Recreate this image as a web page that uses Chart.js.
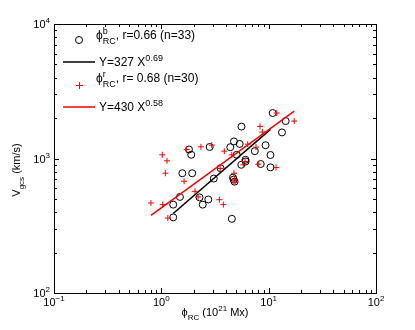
<!DOCTYPE html>
<html>
<head>
<meta charset="utf-8">
<script src="https://cdn.jsdelivr.net/npm/chart.js@4"></script>
<style>
  body { margin: 0; background: #fff; }
  canvas { display: block; }
</style>
</head>
<body>
<canvas id="c" width="415" height="330"></canvas>
<script>
// 資料：黑色圓圈 (phi_RC^b) 與紅色十字 (phi_RC^r)
const blackX = [10.9, 14.4, 5.58, 13.3, 4.75, 5.37, 4.39, 9.35, 7.43, 10.4, 2.82, 1.81, 1.90, 5.04, 6.08, 8.43, 10.4,
    1.57, 1.94, 3.56, 3.08, 4.72, 4.81, 1.49, 2.27, 2.74, 2.43, 1.29, 1.29, 4.54, 4.65, 6.1, 5.56];
const blackY = [2178, 1898, 1727, 1563, 1339, 1283, 1214, 1255, 1134, 1062, 1218, 1167, 1066, 1066, 978, 910, 859,
    777, 777, 847, 709, 697, 673, 518, 514, 496, 454, 454, 365, 356, 721, 950, 898];

const redX = [11.9, 17.3, 8.30, 8.73, 6.38, 7.62, 3.86, 4.53, 2.34, 2.95, 1.72, 1.02, 1.13, 1.09, 1.63, 5.81, 8.00,
    11.7, 4.75, 4.80, 4.87, 3.47, 3.78, 2.06, 0.80, 1.03, 1.15, 6.02, 2.20, 3.53];
const redY = [2178, 1898, 1733, 1572, 1278, 1214, 1134, 1066, 1222, 1257, 1167, 1066, 961, 777, 677, 898, 907,
    857, 777, 701, 666, 494, 454, 570, 467, 454, 361, 950, 518, 842];

// 擬合線 Y = a X^b
const blackFit = [327, 0.69];
const blackFitRange = [1.29, 10.4];
const redFit = [430, 0.58];
const redFitRange = [0.8, 17.3];

// 刻度
const xTickExps = [-1, 0, 1, 2];
const yTickExps = [2, 3, 4];

const FONT = '"Liberation Sans", Arial, Helvetica, sans-serif';

function toPoints(xs, ys) {
    return xs.map((x, i) => ({ x: x, y: ys[i] }));
}

function fitPoints(fit, range) {
    return range.map(x => ({ x: x, y: fit[0] * Math.pow(x, fit[1]) }));
}

// 上下標文字
function segFont(s, size) {
    return (s.sup || s.sub ? Math.round(size * 0.75) : size) + 'px ' + FONT;
}

function richWidth(ctx, segs, size) {
    let w = 0;
    segs.forEach(s => {
        ctx.font = segFont(s, size);
        if (!s.stay) w += ctx.measureText(s.t).width;
    });
    return w;
}

function drawRich(ctx, segs, x, y, size, align) {
    const w = richWidth(ctx, segs, size);
    let cx = align === 'center' ? x - w / 2 : align === 'right' ? x - w : x;
    ctx.textAlign = 'left';
    ctx.textBaseline = 'alphabetic';
    segs.forEach(s => {
        ctx.font = segFont(s, size);
        const dy = s.sup ? -size * 0.45 : s.sub ? size * 0.38 : 0;
        ctx.fillText(s.t, cx, y + dy);
        if (!s.stay) cx += ctx.measureText(s.t).width;
    });
}

const framePlugin = {
    id: 'frame',
    afterDraw(chart) {
        const ctx = chart.ctx;
        const a = chart.chartArea;
        const xs = chart.scales.x;
        const ys = chart.scales.y;
        ctx.save();
        ctx.strokeStyle = '#000';
        ctx.lineWidth = 1;
        ctx.strokeRect(Math.round(a.left) + 0.5, Math.round(a.top) + 0.5,
            Math.round(a.right - a.left), Math.round(a.bottom - a.top));

        // 刻度線（內向）
        ctx.beginPath();
        for (let e = -1; e < 2; e++) {
            for (let m = 1; m <= 10; m++) {
                const v = m * Math.pow(10, e);
                const px = Math.round(xs.getPixelForValue(v)) + 0.5;
                const len = (m === 1 || m === 10) ? 5 : 3;
                ctx.moveTo(px, a.bottom); ctx.lineTo(px, a.bottom - len);
                ctx.moveTo(px, a.top); ctx.lineTo(px, a.top + len);
            }
        }
        for (let e = 2; e < 4; e++) {
            for (let m = 1; m <= 10; m++) {
                const v = m * Math.pow(10, e);
                const py = Math.round(ys.getPixelForValue(v)) + 0.5;
                const len = (m === 1 || m === 10) ? 5 : 3;
                ctx.moveTo(a.left, py); ctx.lineTo(a.left + len, py);
                ctx.moveTo(a.right, py); ctx.lineTo(a.right - len, py);
            }
        }
        ctx.stroke();

        // 刻度標籤
        ctx.fillStyle = '#000';
        xTickExps.forEach(e => {
            const px = xs.getPixelForValue(Math.pow(10, e));
            drawRich(ctx, [{ t: '10' }, { t: String(e).replace('-', '\u2212'), sup: true }], px, 306, 11, 'center');
        });
        yTickExps.forEach(e => {
            const py = ys.getPixelForValue(Math.pow(10, e));
            drawRich(ctx, [{ t: '10' }, { t: String(e), sup: true }], a.left - 4, py + 4, 11, 'right');
        });

        // 軸標題
        drawRich(ctx, [{ t: '\u03d5' }, { t: 'RC', sub: true }, { t: ' (10' }, { t: '21', sup: true }, { t: ' Mx)' }],
            (a.left + a.right) / 2, 316, 11, 'center');
        ctx.save();
        ctx.translate(20, 170);
        ctx.rotate(-Math.PI / 2);
        drawRich(ctx, [{ t: 'V' }, { t: 'gcs', sub: true }, { t: ' (km/s)' }], 0, 0, 11, 'center');
        ctx.restore();

        // 圖例
        const lx0 = 63, lx1 = 95, tx = 99;
        ctx.strokeStyle = '#000';
        ctx.beginPath();
        ctx.arc(79, 40, 3.5, 0, Math.PI * 2);
        ctx.stroke();
        drawRich(ctx, [{ t: '\u03d5' }, { t: 'b', sup: true, stay: true }, { t: 'RC', sub: true },
            { t: ', r=0.66 (n=33)' }], 96, 39, 12, 'left');

        ctx.lineWidth = 1.5;
        ctx.beginPath();
        ctx.moveTo(lx0, 62); ctx.lineTo(lx1, 62);
        ctx.stroke();
        drawRich(ctx, [{ t: 'Y=327 X' }, { t: '0.69', sup: true }], tx, 66, 12, 'left');

        ctx.strokeStyle = '#ff0000';
        ctx.lineWidth = 1;
        ctx.beginPath();
        ctx.moveTo(76, 85.5); ctx.lineTo(83, 85.5);
        ctx.moveTo(79.5, 82); ctx.lineTo(79.5, 89);
        ctx.stroke();
        drawRich(ctx, [{ t: '\u03d5' }, { t: 'r', sup: true, stay: true }, { t: 'RC', sub: true },
            { t: ', r= 0.68 (n=30)' }], 96, 82, 12, 'left');

        ctx.lineWidth = 1.5;
        ctx.beginPath();
        ctx.moveTo(lx0, 107); ctx.lineTo(lx1, 107);
        ctx.stroke();
        drawRich(ctx, [{ t: 'Y=430 X' }, { t: '0.58', sup: true }], tx, 111, 12, 'left');
        ctx.restore();
    }
};

new Chart(document.getElementById('c').getContext('2d'), {
    type: 'scatter',
    data: {
        datasets: [
            {
                type: 'line',
                data: fitPoints(redFit, redFitRange),
                borderColor: '#ff0000',
                borderWidth: 1.5,
                pointRadius: 0,
                fill: false,
                order: 0
            },
            {
                data: toPoints(redX, redY),
                pointStyle: 'cross',
                pointRadius: 3,
                borderColor: '#ff0000',
                borderWidth: 1,
                order: 1
            },
            {
                type: 'line',
                data: fitPoints(blackFit, blackFitRange),
                borderColor: '#000000',
                borderWidth: 1.5,
                pointRadius: 0,
                fill: false,
                order: 2
            },
            {
                data: toPoints(blackX, blackY),
                pointStyle: 'circle',
                pointRadius: 3.5,
                borderColor: '#000000',
                backgroundColor: 'rgba(0,0,0,0)',
                borderWidth: 1,
                order: 3
            }
        ]
    },
    options: {
        responsive: false,
        animation: false,
        layout: { padding: { left: 54, right: 39, top: 24, bottom: 37 } },
        plugins: { legend: { display: false }, tooltip: { enabled: false } },
        scales: {
            x: { type: 'logarithmic', min: 0.1, max: 100, display: false },
            y: { type: 'logarithmic', min: 100, max: 10000, display: false }
        }
    },
    plugins: [framePlugin]
});
</script>
</body>
</html>
